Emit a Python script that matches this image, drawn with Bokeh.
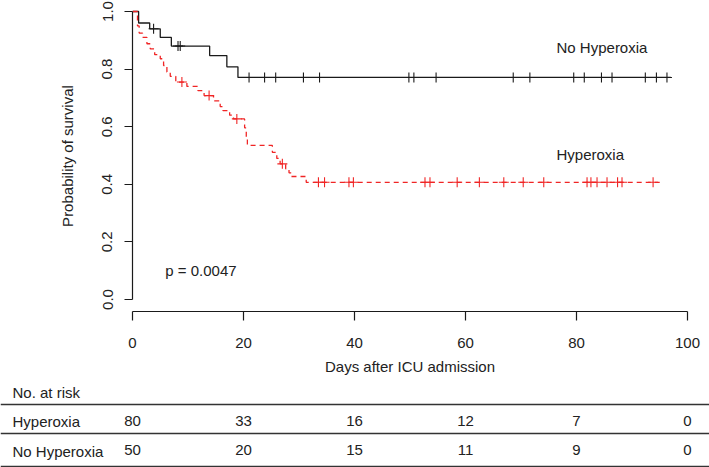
import numpy as np
from bokeh.plotting import figure
from bokeh.layouts import column
from bokeh.models import Range1d, FixedTicker, Label, Span
from bokeh.core.properties import value
from bokeh.embed import file_html
from bokeh.resources import INLINE

# ---------------- data ----------------
# No Hyperoxia (black, solid): event times and survival after each step
nh_times = [1.1, 3.1, 5.0, 7.0, 13.9, 17.0, 19.0]
nh_surv = [0.96, 0.94, 0.91, 0.88, 0.847, 0.808, 0.771]
nh_end = 97.0
nh_censor = [3.8, 8.2, 8.6, 21.0, 23.8, 25.8, 30.8, 33.7, 49.8, 50.7, 54.7,
             68.6, 71.6, 79.5, 81.4, 84.5, 86.4, 92.4, 94.4, 96.3]

# Hyperoxia (red, dashed)
hy_times = [0.9, 1.2, 1.8, 2.6, 3.2, 4.0, 5.0, 5.6, 6.2, 6.8,
            7.8, 9.8, 11.8, 12.9, 14.6, 15.8, 16.3, 17.5, 18.2,
            20.2, 20.5, 20.7, 25.2, 26.0, 26.6, 27.6, 28.2, 28.6, 31.3]
hy_surv = [0.95, 0.925, 0.91, 0.888, 0.87, 0.85, 0.836, 0.8125, 0.79, 0.775,
           0.755, 0.74, 0.725, 0.708, 0.69, 0.67, 0.656, 0.64, 0.627,
           0.596, 0.564, 0.535, 0.511, 0.49, 0.471, 0.454, 0.44, 0.427, 0.407]
hy_end = 95.1
hy_censor = [8.9, 13.8, 18.8, 27.0, 33.5, 34.6, 39.0, 39.8, 52.7, 53.6, 58.5,
             62.5, 66.9, 70.4, 74.1, 81.9, 82.6, 83.7, 85.5, 87.4, 88.2, 93.8]

x_ticks = [0, 20, 40, 60, 80, 100]
y_ticks = [0.0, 0.2, 0.4, 0.6, 0.8, 1.0]
y_tick_labels = ["0.0", "0.2", "0.4", "0.6", "0.8", "1.0"]

risk_days = [0, 20, 40, 60, 80, 100]
risk_hy = [80, 33, 16, 12, 7, 0]
risk_nh = [50, 20, 15, 11, 9, 0]
row_names = ["Hyperoxia", "No Hyperoxia"]

# ---------------- layout constants ----------------
W = 709
HA = 380
HB = 467 - HA
LEFT = 132
RIGHT = 22
FRAME_H = 311
TOP_PAD, UNIT, BOT_PAD = 11, 288, 12
FONT = "Liberation Sans"
FS = "15px"
TXT = "#222222"
BLACK = "#1a1a1a"
RED = "#f02525"


def build(times, surv, end):
    xs = [0.0] + list(times) + [end]
    ys = [1.0] + list(surv) + [surv[-1]]
    return xs, ys


def surv_at(times, surv, t):
    s = 1.0
    for ti, si in zip(times, surv):
        if ti <= t:
            s = si
    return s


def no_align(fig):
    if "frame_align" in fig.properties():
        fig.frame_align = False


pa = figure(width=W, height=HA, output_backend="svg", toolbar_location=None,
            x_range=Range1d(0, 100),
            y_range=Range1d(-BOT_PAD / UNIT, 1 + TOP_PAD / UNIT),
            min_border_left=LEFT, min_border_right=RIGHT,
            min_border_top=0, min_border_bottom=HA - FRAME_H,
            outline_line_color=None, background_fill_color="white",
            border_fill_color="white")
pa.grid.visible = False
no_align(pa)

# axes
for ax in (pa.xaxis[0], pa.yaxis[0]):
    ax.axis_line_color = BLACK
    ax.axis_line_width = 1.2
    ax.major_tick_line_color = BLACK
    ax.major_tick_line_width = 1.2
    ax.major_tick_in = 0
    ax.minor_tick_line_color = None
    ax.major_label_text_font = FONT
    ax.major_label_text_font_size = FS
    ax.major_label_text_color = TXT
    ax.axis_label_text_font = FONT
    ax.axis_label_text_font_size = FS
    ax.axis_label_text_font_style = "normal"
    ax.axis_label_text_color = TXT

xa = pa.xaxis[0]
xa.ticker = FixedTicker(ticks=x_ticks)
xa.bounds = (0, 100)
xa.major_tick_out = 9
xa.major_label_standoff = 17
xa.axis_label = "Days after ICU admission"
xa.axis_label_standoff = 7

ya = pa.yaxis[0]
ya.ticker = FixedTicker(ticks=y_ticks)
ya.major_label_overrides = {t: l for t, l in zip(y_ticks, y_tick_labels)}
ya.bounds = (0, 1)
ya.major_tick_out = 8
ya.major_label_orientation = "vertical"
ya.major_label_standoff = 12
ya.axis_label = "Probability of survival"
ya.axis_label_standoff = 24

# curves
xs, ys = build(nh_times, nh_surv, nh_end)
pa.step(xs, ys, mode="after", line_color=BLACK, line_width=1.3)
xs, ys = build(hy_times, hy_surv, hy_end)
pa.step(xs, ys, mode="after", line_color=RED, line_width=1.3, line_dash="5 4")

pa.scatter(nh_censor, [surv_at(nh_times, nh_surv, t) for t in nh_censor],
           marker="cross", size=10, line_color=BLACK, line_width=1.1)
pa.scatter(hy_censor, [surv_at(hy_times, hy_surv, t) for t in hy_censor],
           marker="cross", size=10, line_color=RED, line_width=1.1)

for txt, x, y in [("No Hyperoxia", 76.4, 0.876), ("Hyperoxia", 76.4, 0.503),
                  ("p = 0.0047", 5.9, 0.10)]:
    pa.add_layout(Label(x=x, y=y, text=txt, text_align="left", text_baseline="middle",
                        text_font=FONT, text_font_size=FS, text_color=TXT))

# ---------------- risk table ----------------
ppd = (W - LEFT - RIGHT) / 100.0
pb = figure(width=W, height=HB, output_backend="svg", toolbar_location=None,
            x_range=Range1d(-LEFT / ppd, (W - LEFT) / ppd),
            y_range=Range1d(HB, 0),
            x_axis_location=None, y_axis_location=None,
            min_border=0, min_border_left=0, min_border_right=0,
            min_border_top=0, min_border_bottom=0,
            outline_line_color=None, background_fill_color="white",
            border_fill_color="white")
pb.grid.visible = False
no_align(pb)

Y_TITLE, Y_L1, Y_R1, Y_L2, Y_R2, Y_L3 = 12, 24, 41, 53, 71, 86
for loc in (Y_L1, Y_L2, Y_L3):
    pb.add_layout(Span(location=loc, dimension="width", line_color="#333333", line_width=1.5))

pb.add_layout(Label(x=12, y=Y_TITLE, x_units="screen", text="No. at risk", text_align="left",
                    text_baseline="middle", text_font=FONT, text_font_size=FS, text_color=TXT))
for name, yy in zip(row_names, (Y_R1, Y_R2)):
    pb.add_layout(Label(x=12, y=yy, x_units="screen", text=name, text_align="left",
                        text_baseline="middle", text_font=FONT, text_font_size=FS, text_color=TXT))

pb.text(x=risk_days, y=[Y_R1 - 1] * len(risk_days), text=[str(v) for v in risk_hy],
        text_align="center", text_baseline="middle", text_font=value(FONT),
        text_font_size=FS, text_color=TXT)
pb.text(x=risk_days, y=[Y_R2 - 2] * len(risk_days), text=[str(v) for v in risk_nh],
        text_align="center", text_baseline="middle", text_font=value(FONT),
        text_font_size=FS, text_color=TXT)

p = column(pa, pb, spacing=0)
open("out.html", "w").write(file_html(p, INLINE))
